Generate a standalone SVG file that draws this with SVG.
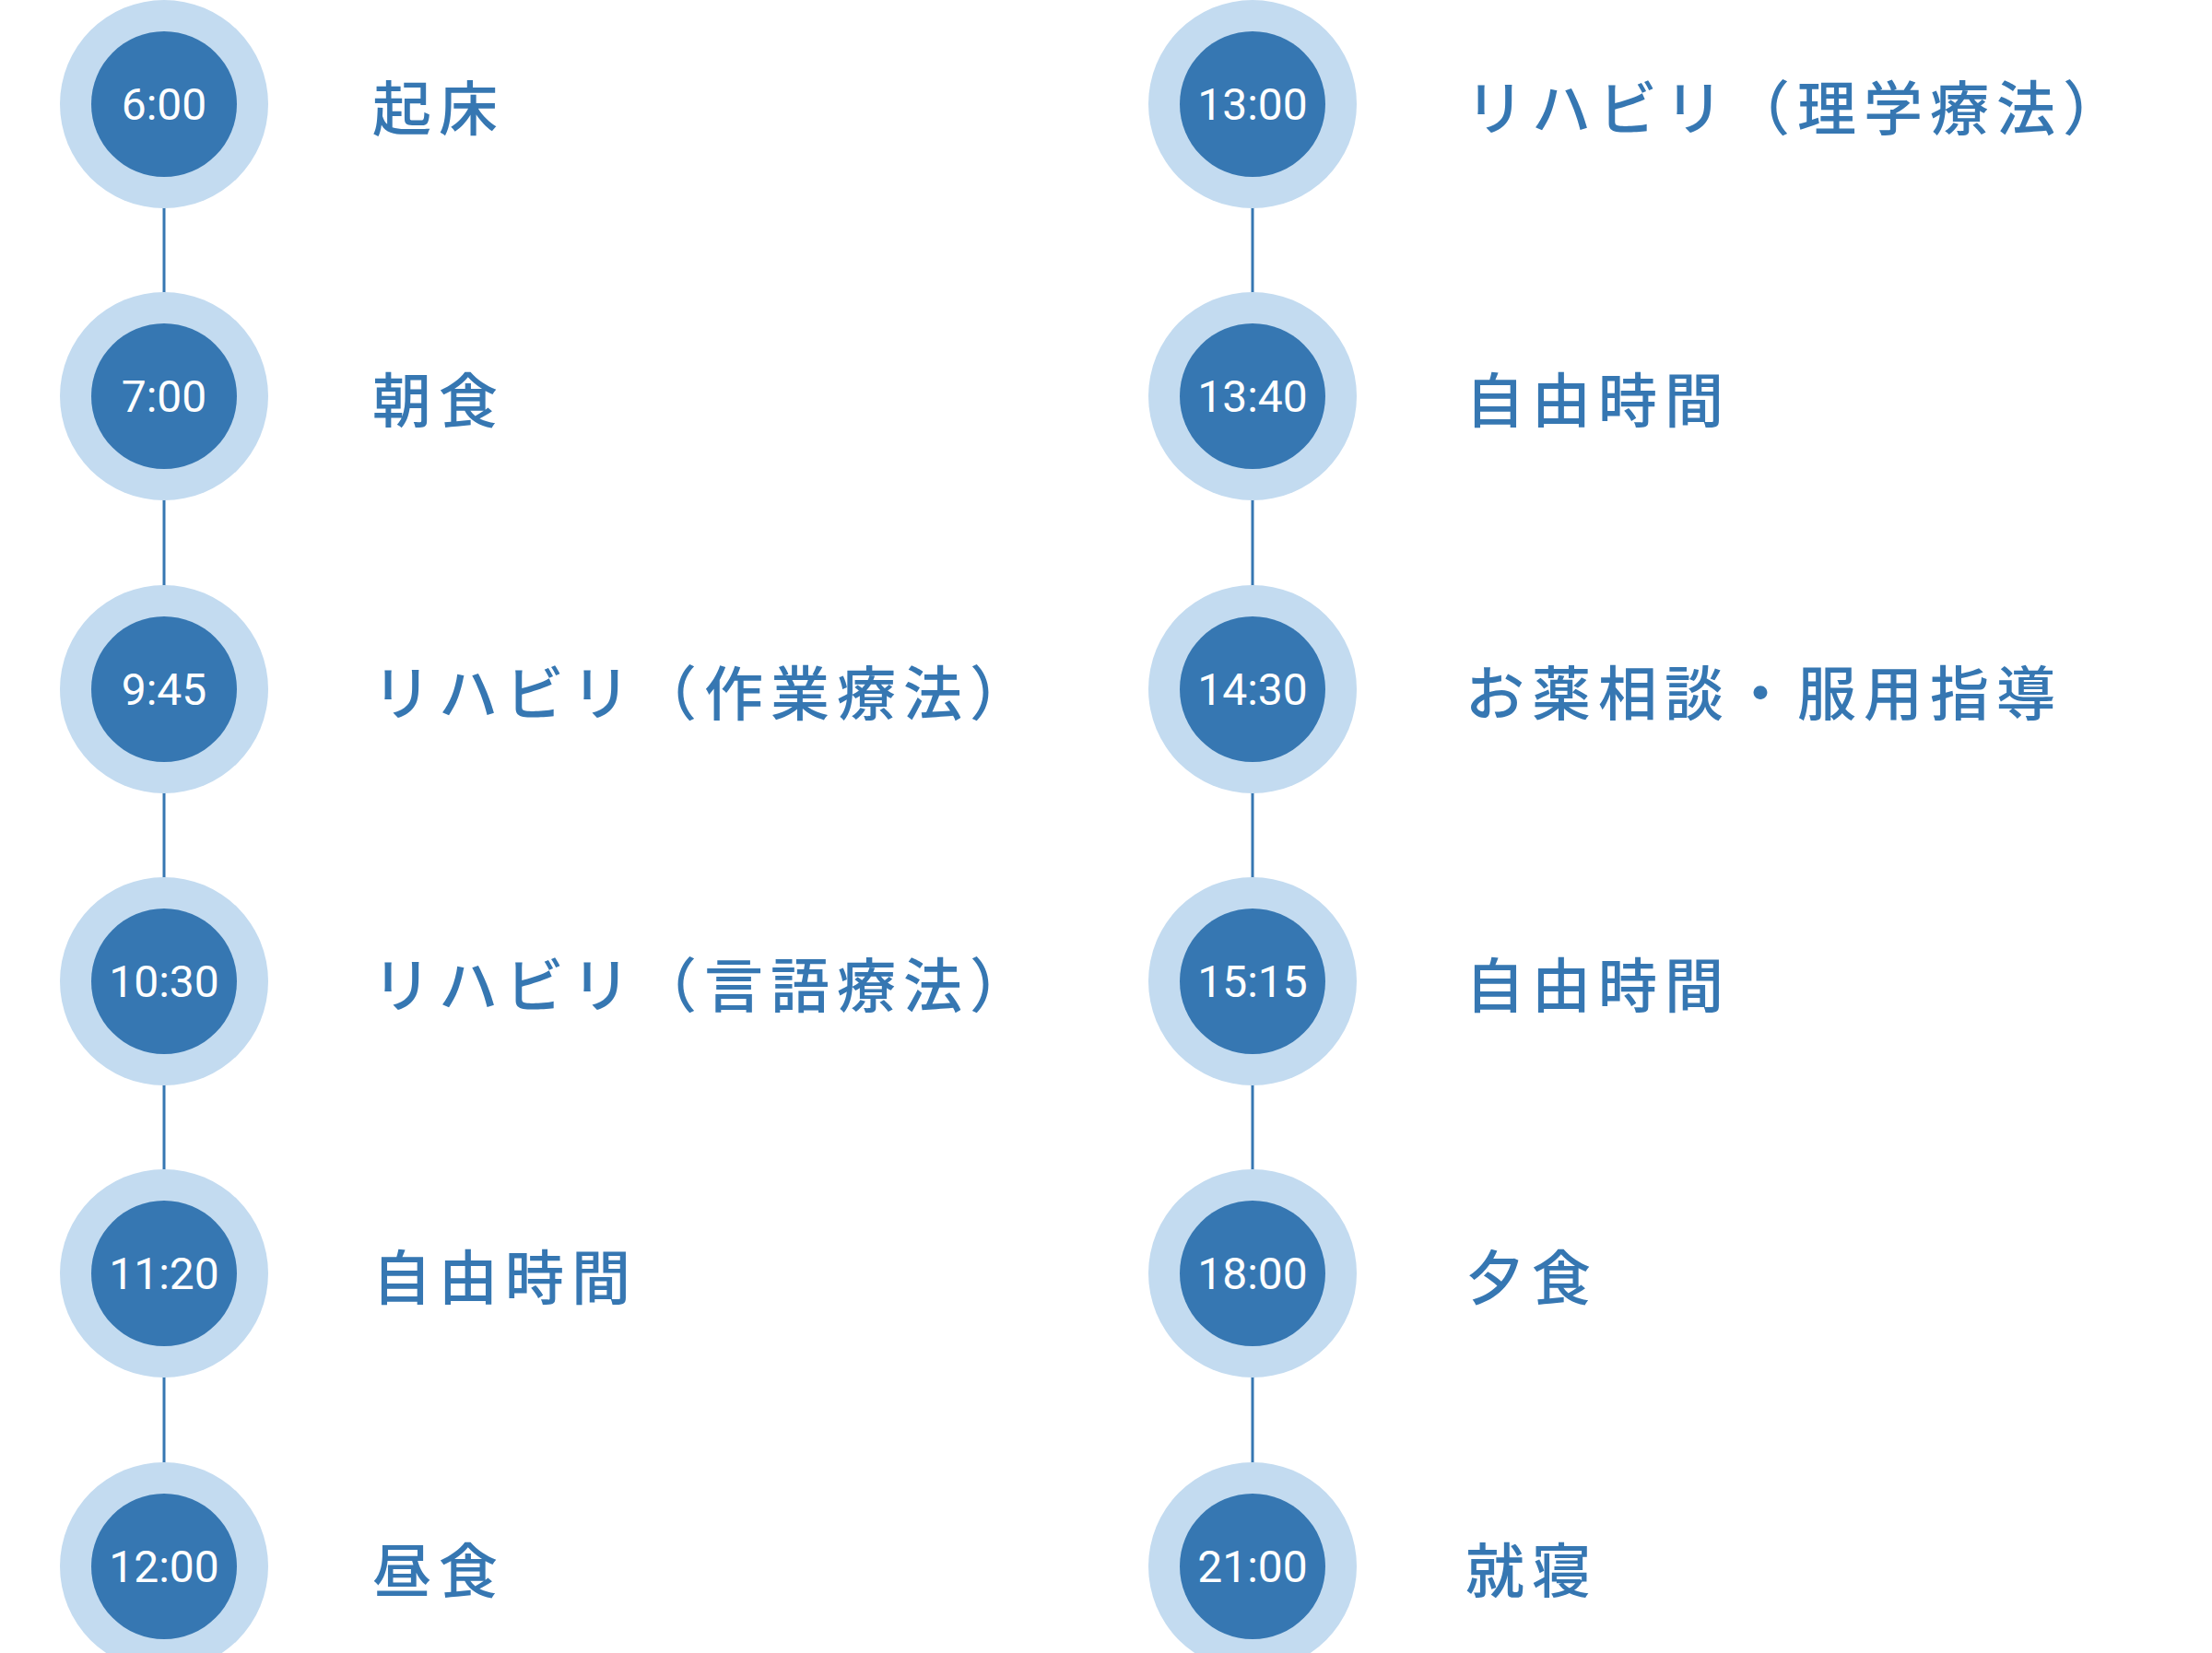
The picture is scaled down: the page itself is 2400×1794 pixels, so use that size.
<svg xmlns="http://www.w3.org/2000/svg" width="2400" height="1794" viewBox="0 0 2400 1794">
<style>
.o{fill:#c3dbf0}.i{fill:#3677b2}
.t{font-family:Roboto,"Liberation Sans",sans-serif;font-size:48px;fill:#fff;text-anchor:middle;dominant-baseline:central}
.l{font-family:"Noto Sans CJK JP",sans-serif;font-size:64px;fill:#3677b2;font-weight:500;letter-spacing:8px;dominant-baseline:central}
.c{stroke:#3677b2;stroke-width:3}
</style>
<rect width="2400" height="1794" fill="#fff"/>
<g id="connectors" class="c">
<line x1="178" y1="113" x2="178" y2="1700"/>
<line x1="1359" y1="113" x2="1359" y2="1700"/>
</g>
<g id="n1"><circle class="o" cx="178" cy="113" r="113"/><circle class="i" cx="178" cy="113" r="79"/><text class="t" x="178" y="113">6:00</text><text class="l" x="404" y="113">起床</text></g>
<g id="n2"><circle class="o" cx="178" cy="430" r="113"/><circle class="i" cx="178" cy="430" r="79"/><text class="t" x="178" y="430">7:00</text><text class="l" x="404" y="430">朝食</text></g>
<g id="n3"><circle class="o" cx="178" cy="748" r="113"/><circle class="i" cx="178" cy="748" r="79"/><text class="t" x="178" y="748">9:45</text><text class="l" x="404" y="748">リハビリ（作業療法）</text></g>
<g id="n4"><circle class="o" cx="178" cy="1065" r="113"/><circle class="i" cx="178" cy="1065" r="79"/><text class="t" x="178" y="1065">10:30</text><text class="l" x="404" y="1065">リハビリ（言語療法）</text></g>
<g id="n5"><circle class="o" cx="178" cy="1382" r="113"/><circle class="i" cx="178" cy="1382" r="79"/><text class="t" x="178" y="1382">11:20</text><text class="l" x="404" y="1382">自由時間</text></g>
<g id="n6"><circle class="o" cx="178" cy="1700" r="113"/><circle class="i" cx="178" cy="1700" r="79"/><text class="t" x="178" y="1700">12:00</text><text class="l" x="404" y="1700">昼食</text></g>
<g id="n7"><circle class="o" cx="1359" cy="113" r="113"/><circle class="i" cx="1359" cy="113" r="79"/><text class="t" x="1359" y="113">13:00</text><text class="l" x="1590" y="113">リハビリ（理学療法）</text></g>
<g id="n8"><circle class="o" cx="1359" cy="430" r="113"/><circle class="i" cx="1359" cy="430" r="79"/><text class="t" x="1359" y="430">13:40</text><text class="l" x="1590" y="430">自由時間</text></g>
<g id="n9"><circle class="o" cx="1359" cy="748" r="113"/><circle class="i" cx="1359" cy="748" r="79"/><text class="t" x="1359" y="748">14:30</text><text class="l" x="1590" y="748">お薬相談・服用指導</text></g>
<g id="n10"><circle class="o" cx="1359" cy="1065" r="113"/><circle class="i" cx="1359" cy="1065" r="79"/><text class="t" x="1359" y="1065">15:15</text><text class="l" x="1590" y="1065">自由時間</text></g>
<g id="n11"><circle class="o" cx="1359" cy="1382" r="113"/><circle class="i" cx="1359" cy="1382" r="79"/><text class="t" x="1359" y="1382">18:00</text><text class="l" x="1590" y="1382">夕食</text></g>
<g id="n12"><circle class="o" cx="1359" cy="1700" r="113"/><circle class="i" cx="1359" cy="1700" r="79"/><text class="t" x="1359" y="1700">21:00</text><text class="l" x="1590" y="1700">就寝</text></g>
</svg>
